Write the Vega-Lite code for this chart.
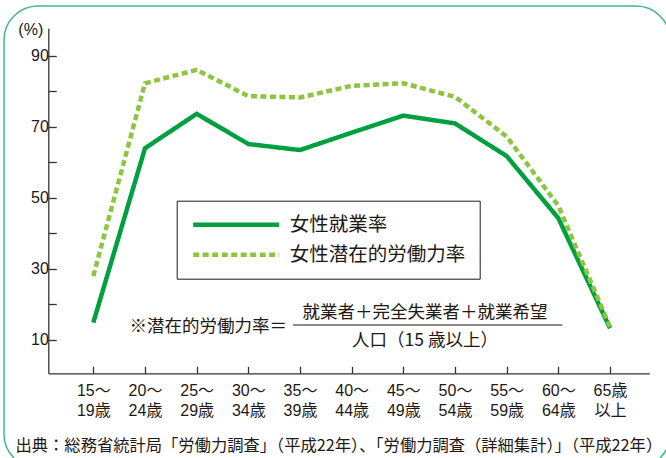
{
  "$schema": "https://vega.github.io/schema/vega-lite/v6.json",
  "width": 666,
  "height": 462,
  "autosize": {"type": "none"},
  "padding": {"left": 4, "top": 6, "right": -4, "bottom": -10},
  "config": {
    "view": {"stroke": "#3dbb8a", "strokeWidth": 1.5, "cornerRadius": 34},
    "font": "Liberation Sans, Noto Sans CJK JP"
  },
  "data": {
    "values": [
      {"age": "15〜19歳", "series": "女性就業率", "rate": 14.9},
      {"age": "20〜24歳", "series": "女性就業率", "rate": 64.0},
      {"age": "25〜29歳", "series": "女性就業率", "rate": 73.7},
      {"age": "30〜34歳", "series": "女性就業率", "rate": 65.2},
      {"age": "35〜39歳", "series": "女性就業率", "rate": 63.5},
      {"age": "40〜44歳", "series": "女性就業率", "rate": 68.4},
      {"age": "45〜49歳", "series": "女性就業率", "rate": 73.2},
      {"age": "50〜54歳", "series": "女性就業率", "rate": 71.0},
      {"age": "55〜59歳", "series": "女性就業率", "rate": 61.8},
      {"age": "60〜64歳", "series": "女性就業率", "rate": 44.3},
      {"age": "65歳以上", "series": "女性就業率", "rate": 13.3},
      {"age": "15〜19歳", "series": "女性潜在的労働力率", "rate": 28.0},
      {"age": "20〜24歳", "series": "女性潜在的労働力率", "rate": 82.3},
      {"age": "25〜29歳", "series": "女性潜在的労働力率", "rate": 86.1},
      {"age": "30〜34歳", "series": "女性潜在的労働力率", "rate": 78.7},
      {"age": "35〜39歳", "series": "女性潜在的労働力率", "rate": 78.3},
      {"age": "40〜44歳", "series": "女性潜在的労働力率", "rate": 81.6},
      {"age": "45〜49歳", "series": "女性潜在的労働力率", "rate": 82.3},
      {"age": "50〜54歳", "series": "女性潜在的労働力率", "rate": 78.5},
      {"age": "55〜59歳", "series": "女性潜在的労働力率", "rate": 67.3},
      {"age": "60〜64歳", "series": "女性潜在的労働力率", "rate": 47.8},
      {"age": "65歳以上", "series": "女性潜在的労働力率", "rate": 13.7}
    ]
  },
  "layer": [
    {
      "mark": {"type": "line", "strokeWidth": 4.5, "strokeCap": "butt", "strokeJoin": "miter"},
      "encoding": {
        "x": {
          "field": "age", "type": "ordinal", "sort": null,
          "scale": {"type": "point", "range": [44.3, 645.3], "padding": 0.816, "align": 0.534},
          "axis": {
            "orient": "bottom", "offset": -94.7,
            "tickSize": -7, "labelPadding": 16,
            "labelFontSize": 16, "labelLineHeight": 20, "labelAngle": 0,
            "labelColor": "#231815",
            "labelExpr": "[substring(datum.label,0,3), substring(datum.label,3)]",
            "domainColor": "#333333", "tickColor": "#333333", "domainWidth": 1.3, "tickWidth": 1.3,
            "title": "出典：総務省統計局「労働力調査」（平成22年）、「労働力調査（詳細集計）」（平成22年）",
            "titleX": 11, "titleY": 71.7, "titleAlign": "left", "titleBaseline": "middle",
            "titleFont": "Noto Sans CJK JP", "titleFontSize": 16.3, "titleFontWeight": "normal",
            "titleColor": "#231815"
          }
        },
        "y": {
          "field": "rate", "type": "quantitative",
          "scale": {"domain": [0.6, 97.8], "range": [367.3, 22.3], "nice": false, "zero": false},
          "axis": {
            "orient": "left", "offset": -44.3,
            "values": [10, 20, 30, 40, 50, 60, 70, 80, 90],
            "labelExpr": "datum.value % 20 == 10 ? datum.label : ''",
            "tickSize": -8, "labelPadding": 8, "labelFontSize": 16, "labelColor": "#231815",
            "domainColor": "#333333", "tickColor": "#333333", "domainWidth": 1.3, "tickWidth": 1.3,
            "grid": false,
            "title": "(%)", "titleAngle": 0, "titleX": -18, "titleY": 23.3,
            "titleAlign": "center", "titleBaseline": "middle", "titleFontSize": 16,
            "titleFontWeight": "normal", "titleColor": "#231815"
          }
        },
        "color": {
          "field": "series", "type": "nominal",
          "scale": {"domain": ["女性就業率", "女性潜在的労働力率"], "range": ["#00a040", "#8cc63f"]},
          "legend": {
            "title": null, "orient": "none", "legendX": 172.7, "legendY": 194.7,
            "symbolType": "stroke", "symbolSize": 7400, "symbolStrokeWidth": 4.5,
            "clipHeight": 20, "rowPadding": 10, "labelOffset": 8,
            "labelFontSize": 19.5, "labelFont": "Noto Sans CJK JP", "labelColor": "#231815", "labelLimit": 300,
            "padding": 14, "strokeColor": "#231815"
          }
        },
        "strokeDash": {
          "field": "series", "type": "nominal",
          "scale": {"domain": ["女性就業率", "女性潜在的労働力率"], "range": [[1, 0], [6, 3.5]]},
          "legend": {
            "title": null, "orient": "none", "legendX": 172.7, "legendY": 194.7,
            "symbolType": "stroke", "symbolSize": 7400, "symbolStrokeWidth": 4.5,
            "clipHeight": 20, "rowPadding": 10, "labelOffset": 8,
            "labelFontSize": 19.5, "labelFont": "Noto Sans CJK JP", "labelColor": "#231815", "labelLimit": 300,
            "padding": 14, "strokeColor": "#231815"
          }
        }
      }
    },
    {
      "data": {"values": [{}]},
      "mark": {"type": "text", "align": "right", "baseline": "middle", "dx": -13, "font": "Noto Sans CJK JP", "fontSize": 17.5, "fontWeight": "normal", "fill": "#231815"},
      "encoding": {
        "x": {"datum": "35〜39歳"},
        "y": {"datum": 13.7},
        "text": {"value": "※潜在的労働力率＝"}
      }
    },
    {
      "data": {"values": [{}]},
      "mark": {"type": "text", "align": "center", "baseline": "middle", "dx": 21.7, "font": "Noto Sans CJK JP", "fontSize": 17.5, "fontWeight": "normal", "fill": "#231815"},
      "encoding": {
        "x": {"datum": "45〜49歳"},
        "y": {"datum": 17.6},
        "text": {"value": "就業者＋完全失業者＋就業希望"}
      }
    },
    {
      "data": {"values": [{}]},
      "mark": {"type": "text", "align": "center", "baseline": "middle", "dx": 21.7, "font": "Noto Sans CJK JP", "fontSize": 17.5, "fontWeight": "normal", "fill": "#231815"},
      "encoding": {
        "x": {"datum": "45〜49歳"},
        "y": {"datum": 9.8},
        "text": {"value": "人口（15 歳以上）"}
      }
    },
    {
      "data": {"values": [{}]},
      "mark": {"type": "rule", "color": "#231815", "strokeWidth": 1.1, "xOffset": -7, "x2Offset": 4},
      "encoding": {
        "x": {"datum": "35〜39歳"},
        "x2": {"datum": "60〜64歳"},
        "y": {"datum": 14.2}
      }
    }
  ]
}
